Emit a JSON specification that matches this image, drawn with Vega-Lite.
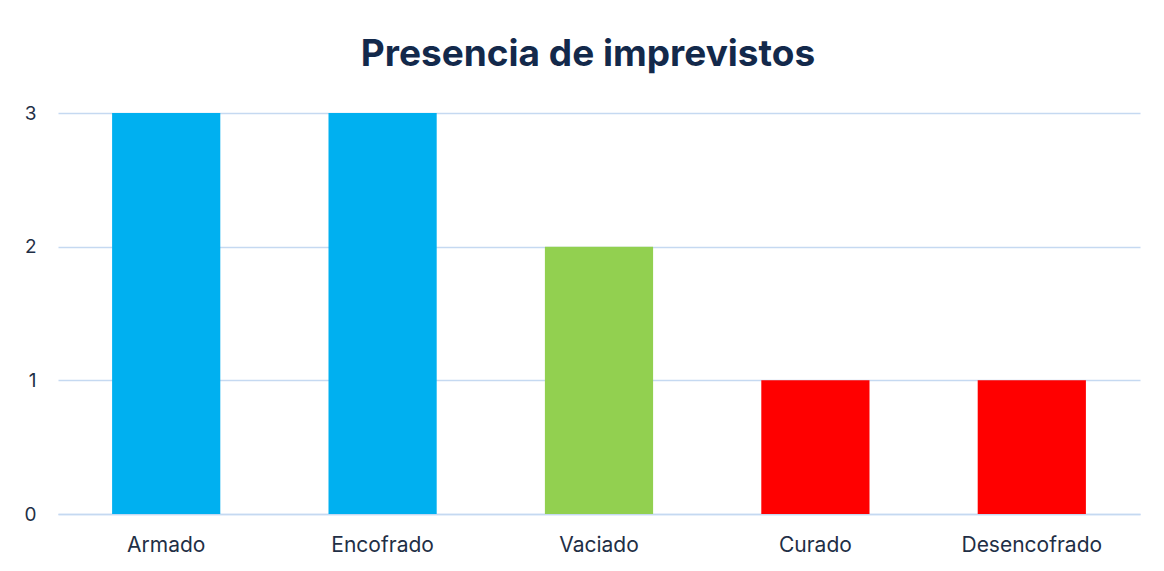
{
  "$schema": "https://vega.github.io/schema/vega-lite/v6.json",
  "autosize": "none",
  "width": 1082,
  "height": 401,
  "padding": {"left": 58, "top": 113, "right": 24, "bottom": 57},
  "background": "white",
  "title": {
    "text": "Presencia de imprevistos",
    "font": "Inter",
    "fontSize": 37,
    "fontWeight": "bold",
    "color": "#13294B",
    "anchor": "middle",
    "offset": 30,
    "dx": -11
  },
  "data": {
    "values": [
      {"etapa": "Armado", "valor": 3, "grupo": "alto"},
      {"etapa": "Encofrado", "valor": 3, "grupo": "alto"},
      {"etapa": "Vaciado", "valor": 2, "grupo": "medio"},
      {"etapa": "Curado", "valor": 1, "grupo": "bajo"},
      {"etapa": "Desencofrado", "valor": 1, "grupo": "bajo"}
    ]
  },
  "mark": {"type": "bar"},
  "encoding": {
    "x": {
      "field": "etapa",
      "type": "nominal",
      "sort": null,
      "title": null,
      "scale": {"paddingInner": 0.5, "paddingOuter": 0.25},
      "axis": {
        "labelAngle": 0,
        "labelFont": "Inter",
        "labelFontSize": 21,
        "labelColor": "#1F2F46",
        "labelPadding": 20,
        "ticks": false,
        "domain": true,
        "domainColor": "#C5D9F1",
        "domainWidth": 1.5
      }
    },
    "y": {
      "field": "valor",
      "type": "quantitative",
      "title": null,
      "scale": {"domain": [0, 3], "nice": false},
      "axis": {
        "values": [0, 1, 2, 3],
        "labelFont": "Inter",
        "labelFontSize": 19,
        "labelColor": "#1F2F46",
        "labelPadding": 22,
        "ticks": false,
        "domain": false,
        "grid": true,
        "gridColor": "#C5D9F1",
        "gridWidth": 1.5
      }
    },
    "color": {
      "field": "grupo",
      "type": "nominal",
      "legend": null,
      "scale": {"domain": ["alto", "medio", "bajo"], "range": ["#00B0F0", "#92D050", "#FF0000"]}
    }
  },
  "config": {"view": {"stroke": null}}
}
